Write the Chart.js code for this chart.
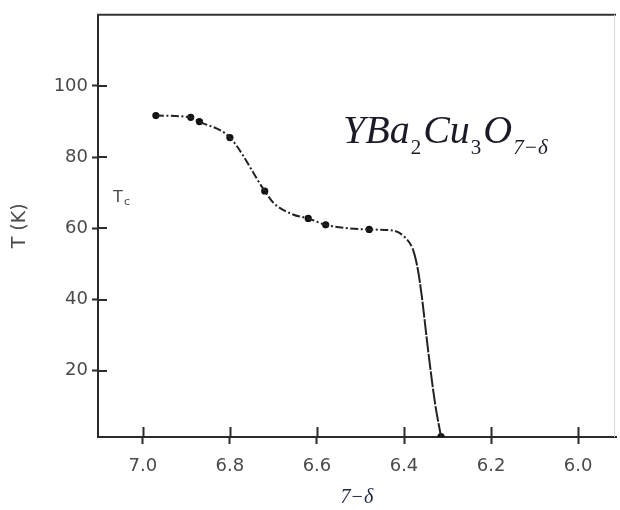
<!DOCTYPE html>
<html>
<head>
<meta charset="utf-8">
<script src="https://cdn.jsdelivr.net/npm/chart.js@4"></script>
<style>
  html, body { margin: 0; padding: 0; background: #fff; }
  #wrap { width: 620px; height: 510px; }
</style>
</head>
<body>
<div id="wrap"><canvas id="tcChart"></canvas></div>
<script>
// 測定点 (7-δ, Tc)
const pointX = [6.97, 6.89, 6.87, 6.80, 6.72, 6.62, 6.58, 6.48, 6.315];
const pointY = [91.7, 91.2, 90.0, 85.5, 70.5, 62.8, 61.0, 59.7, 1.5];

// なめらかな曲線（図から読み取った位置）
const curveX = [6.97, 6.89, 6.87, 6.80, 6.72, 6.70, 6.655, 6.62, 6.58, 6.48, 6.425, 6.398, 6.379, 6.368, 6.359, 6.345, 6.329, 6.315];
const curveY = [91.7, 91.2, 90.0, 85.5, 70.5, 67.2, 63.9, 62.8, 61.0, 59.7, 59.4, 57.5, 53.9, 48.3, 40.8, 26.1, 11.1, 1.5];

const xTicks = [7.0, 6.8, 6.6, 6.4, 6.2, 6.0];
const yTicks = [20, 40, 60, 80, 100];

const tickFont = { family: 'DejaVu Sans', size: 18 };
const axisColor = '#2a2a2a';
const textColor = '#4a4a4a';

// 軸の内側に伸びる目盛り、上の枠、注記
const extrasPlugin = {
  id: 'extras',
  afterDraw(chart) {
    const { ctx, chartArea: a, scales } = chart;
    ctx.save();
    ctx.strokeStyle = axisColor;
    ctx.lineWidth = 2;
    ctx.beginPath();
    scales.x.ticks.forEach((t, i) => {
      const px = Math.round(scales.x.getPixelForTick(i)) + 0.5;
      ctx.moveTo(px, a.bottom);
      ctx.lineTo(px, a.bottom - 10);
    });
    scales.y.ticks.forEach((t, i) => {
      const py = Math.round(scales.y.getPixelForTick(i));
      ctx.moveTo(a.left, py);
      ctx.lineTo(a.left + 9, py);
    });
    ctx.stroke();

    // 上の枠線
    ctx.strokeStyle = '#333';
    ctx.beginPath();
    ctx.moveTo(a.left - 1, a.top);
    ctx.lineTo(a.right, a.top);
    ctx.stroke();
    ctx.strokeStyle = '#d8d8d8';
    ctx.lineWidth = 1;
    ctx.beginPath();
    ctx.moveTo(a.right - 1.5, a.top);
    ctx.lineTo(a.right - 1.5, a.bottom);
    ctx.stroke();

    // Tc
    ctx.fillStyle = textColor;
    ctx.textBaseline = 'alphabetic';
    ctx.font = '16px "DejaVu Sans"';
    ctx.fillText('T', a.left + 15, 202);
    ctx.font = '11px "DejaVu Sans"';
    ctx.fillText('c', a.left + 26, 205);

    // 化学式 YBa2Cu3O7-δ
    const parts = [
      ['YBa', false], ['2', true], ['Cu', false], ['3', true], ['O', false], ['7\u2212\u03b4', true]
    ];
    ctx.fillStyle = '#1b1b28';
    let x = 343;
    parts.forEach(([s, sub]) => {
      if (sub) {
        ctx.font = (s.length > 1 ? 'italic ' : '') + '21px "Liberation Serif"';
        ctx.fillText(s, x + 1, 154);
        x += ctx.measureText(s).width + 3;
      } else {
        ctx.font = 'italic 40px "Liberation Serif"';
        ctx.fillText(s, x, 143);
        x += ctx.measureText(s).width;
      }
    });
    ctx.restore();
  }
};

new Chart(document.getElementById('tcChart'), {
  type: 'scatter',
  data: {
    datasets: [
      {
        label: 'curve',
        data: curveX.map((v, i) => ({ x: v, y: curveY[i] })),
        showLine: true,
        pointRadius: 0,
        borderColor: '#222',
        borderWidth: 2,
        cubicInterpolationMode: 'monotone',
        borderDash: [8, 2.5, 2, 2.5],
        segment: {
          borderDash: c => (c.p0.parsed.x < 6.39 ? [16, 1.5] : [8, 2.5, 2, 2.5])
        }
      },
      {
        label: 'Tc',
        data: pointX.map((v, i) => ({ x: v, y: pointY[i] })),
        showLine: false,
        pointRadius: 3.6,
        pointBackgroundColor: '#111',
        pointBorderWidth: 0
      }
    ]
  },
  options: {
    responsive: true,
    maintainAspectRatio: false,
    animation: false,
    layout: { padding: { top: 10, right: 2, left: 0, bottom: 0 } },
    plugins: { legend: { display: false }, tooltip: { enabled: false } },
    scales: {
      x: {
        type: 'linear',
        reverse: true,
        min: 5.913,
        max: 7.103,
        afterBuildTicks: s => { s.ticks = xTicks.map(v => ({ value: v })); },
        afterFit: s => { s.height = 73; },
        grid: { drawOnChartArea: false, drawTicks: true, tickLength: 7, tickWidth: 2, tickColor: axisColor },
        border: { display: true, color: axisColor, width: 2 },
        ticks: { font: tickFont, color: textColor, padding: 12, callback: v => v.toFixed(1) },
        title: {
          display: true,
          text: '7\u2212\u03b4',
          color: '#1c2540',
          font: { family: 'Liberation Serif', size: 20, style: 'italic' },
          padding: { top: 0, bottom: 0 }
        }
      },
      y: {
        type: 'linear',
        min: 1.4,
        max: 120,
        afterBuildTicks: s => { s.ticks = yTicks.map(v => ({ value: v })); },
        afterFit: s => { s.width = 98; },
        grid: { drawOnChartArea: false, drawTicks: true, tickLength: 6, tickWidth: 2, tickColor: axisColor },
        border: { display: true, color: axisColor, width: 2 },
        ticks: { font: tickFont, color: textColor, padding: 4 },
        title: {
          display: true,
          text: 'T (K)',
          color: textColor,
          font: { family: 'DejaVu Sans', size: 19 },
          padding: { top: 9, bottom: 0 }
        }
      }
    }
  },
  plugins: [extrasPlugin]
});
</script>
</body>
</html>
